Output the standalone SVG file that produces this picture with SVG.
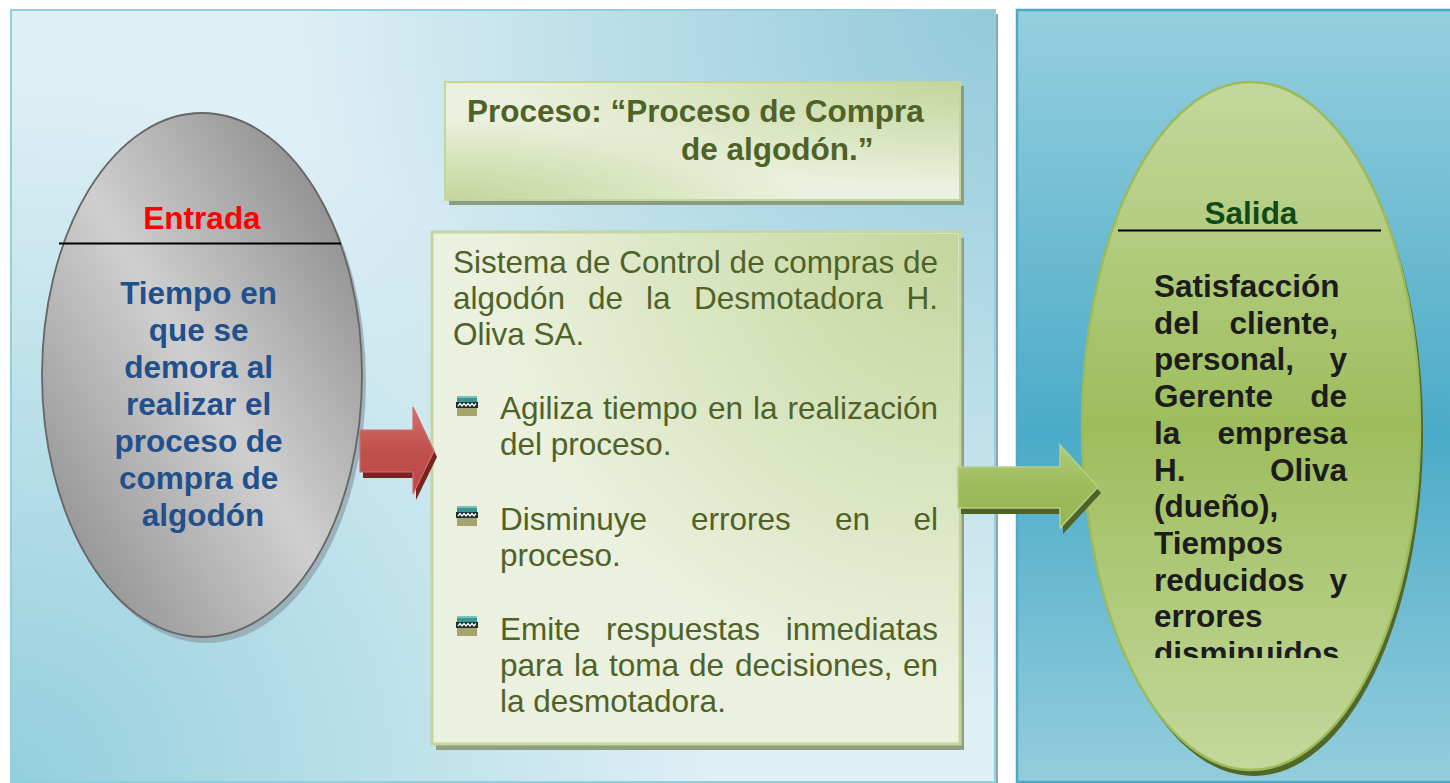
<svg xmlns="http://www.w3.org/2000/svg" width="1450" height="783" viewBox="0 0 1450 783">
<defs>
<style>
text{font-family:"Liberation Sans",Arial,sans-serif;font-size:31.5px}
.b{font-weight:bold}
.blue{fill:#21508d;font-weight:bold}
.olive{fill:#4f6228}
.dark{fill:#1c1c1c;font-weight:bold}
.rule{stroke:#000;stroke-width:2}
</style>
<radialGradient id="pnlTR" gradientUnits="userSpaceOnUse" cx="995" cy="9" r="700">
<stop offset="0" stop-color="#92cada" stop-opacity="1"/>
<stop offset="1" stop-color="#92cada" stop-opacity="0"/>
</radialGradient>
<radialGradient id="pnlBL" gradientUnits="userSpaceOnUse" cx="10" cy="783" r="700">
<stop offset="0" stop-color="#93cfdd" stop-opacity="1"/>
<stop offset="1" stop-color="#93cfdd" stop-opacity="0"/>
</radialGradient>
<linearGradient id="pnlR" x1="0" y1="0" x2="0" y2="1">
<stop offset="0" stop-color="#96cfde"/>
<stop offset="0.55" stop-color="#4babc8"/>
<stop offset="1" stop-color="#94cddc"/>
</linearGradient>
<radialGradient id="boxTR" cx="1" cy="0" r="0.9">
<stop offset="0" stop-color="#c3d69b"/>
<stop offset="1" stop-color="#c3d69b" stop-opacity="0"/>
</radialGradient>
<radialGradient id="boxBL" cx="0" cy="1" r="0.7">
<stop offset="0" stop-color="#c3d69b"/>
<stop offset="1" stop-color="#c3d69b" stop-opacity="0"/>
</radialGradient>
<linearGradient id="gris" x1="1" y1="0" x2="0" y2="1">
<stop offset="0" stop-color="#7c7c7c"/>
<stop offset="0.5" stop-color="#cfcfcf"/>
<stop offset="1" stop-color="#838383"/>
</linearGradient>
<linearGradient id="verde" x1="0" y1="0" x2="0" y2="1">
<stop offset="0" stop-color="#c4d89c"/>
<stop offset="0.5" stop-color="#9dbd5c"/>
<stop offset="1" stop-color="#c4d89c"/>
</linearGradient>
<linearGradient id="rojo" x1="0" y1="0" x2="0" y2="1">
<stop offset="0" stop-color="#d5726f"/>
<stop offset="0.5" stop-color="#c0504d"/>
<stop offset="1" stop-color="#b94844"/>
</linearGradient>
<linearGradient id="flechaV" x1="0" y1="0" x2="0" y2="1">
<stop offset="0" stop-color="#b0ca7b"/>
<stop offset="0.5" stop-color="#9dbc5b"/>
<stop offset="1" stop-color="#95b653"/>
</linearGradient>
<clipPath id="clipSalida"><rect x="1080" y="0" width="370" height="658"/></clipPath>
<g id="bullet">
<rect x="1" y="0" width="20" height="6" fill="#3a9690"/>
<rect x="1" y="0" width="20" height="2" fill="#7cc0b8"/>
<rect x="0" y="6" width="22" height="6" fill="#18302e"/>
<path d="M2,10 l2,-2.5 l2,2.5 l2,-2.5 l2,2.5 l2,-2.5 l2,2.5 l2,-2.5 l2,2.5 l2,-2.5" fill="none" stroke="#ffffff" stroke-width="1.3"/>
<rect x="1" y="12" width="20" height="8" fill="#a6a36c"/>
</g>
</defs>

<g id="panel-left">
<rect x="995" y="14" width="3" height="769" fill="#8fa7b0"/>
<rect x="11" y="10" width="984" height="772" fill="#deeff5" stroke="#92cfdc" stroke-width="2"/>
<rect x="12" y="11" width="982" height="770" fill="url(#pnlTR)"/>
<rect x="12" y="11" width="982" height="770" fill="url(#pnlBL)"/>
</g>

<g id="panel-right">
<rect x="1017" y="10" width="440" height="772" fill="url(#pnlR)" stroke="#4aaac8" stroke-width="2.5"/>
</g>

<g id="node-entrada">
<ellipse cx="206" cy="381" rx="160" ry="262" fill="#8d9ea6" opacity="0.7"/>
<ellipse cx="202" cy="375" rx="160" ry="262" fill="url(#gris)" stroke="#666666" stroke-width="1.8"/>
<text x="202" y="229" text-anchor="middle" class="b" fill="#ff0000">Entrada</text>
<line x1="59" y1="243.5" x2="341" y2="243.5" class="rule"/>
<text text-anchor="middle" class="blue">
<tspan x="203" y="304">Tiempo en</tspan>
<tspan x="203" y="341">que se</tspan>
<tspan x="203" y="378">demora al</tspan>
<tspan x="203" y="415">realizar el</tspan>
<tspan x="203" y="452">proceso de</tspan>
<tspan x="203" y="489">compra de</tspan>
<tspan x="203" y="526">algodón</tspan>
</text>
</g>

<g id="node-proceso-titulo">
<rect x="449" y="86" width="515" height="119" fill="#8c9c80"/>
<rect x="445" y="82" width="515" height="118" fill="#ebf1de" stroke="#c3d69b" stroke-width="2"/>
<rect x="446" y="83" width="513" height="116" fill="url(#boxTR)"/>
<rect x="446" y="83" width="513" height="116" fill="url(#boxBL)"/>
<text class="b olive">
<tspan x="467" y="122">Proceso: “Proceso de Compra</tspan>
<tspan x="681" y="160">de algodón.”</tspan>
</text>
</g>

<g id="node-proceso">
<rect x="436" y="238" width="528" height="512" fill="#8f9e84"/>
<rect x="432" y="232" width="528" height="512" fill="#ebf1de" stroke="#c3d69b" stroke-width="3"/>
<rect x="434" y="234" width="524" height="508" fill="url(#boxTR)"/>
<g class="olive">
<text x="453" y="273" class="olive">Sistema de Control de compras de</text>
<text y="309" class="olive"><tspan x="453">algodón</tspan><tspan x="588">de</tspan><tspan x="646">la</tspan><tspan x="694">Desmotadora</tspan></text>
<text x="938" y="309" text-anchor="end" class="olive">H.</text>
<text x="453" y="345" class="olive">Oliva SA.</text>

<use href="#bullet" x="456" y="396"/>
<text y="419" class="olive"><tspan x="500">Agiliza</tspan><tspan x="603">tiempo</tspan><tspan x="708">en</tspan><tspan x="753">la</tspan></text>
<text x="938" y="419" text-anchor="end" class="olive">realización</text>
<text x="500" y="455" class="olive">del proceso.</text>

<use href="#bullet" x="456" y="506"/>
<text y="530" class="olive"><tspan x="500">Disminuye</tspan><tspan x="691">errores</tspan><tspan x="835">en</tspan></text>
<text x="938" y="530" text-anchor="end" class="olive">el</text>
<text x="500" y="566" class="olive">proceso.</text>

<use href="#bullet" x="456" y="616"/>
<text y="640" class="olive"><tspan x="500">Emite</tspan><tspan x="606">respuestas</tspan></text>
<text x="938" y="640" text-anchor="end" class="olive">inmediatas</text>
<text y="676" class="olive"><tspan x="500">para</tspan><tspan x="574">la</tspan><tspan x="609">toma</tspan><tspan x="689">de</tspan><tspan x="735">decisiones,</tspan></text>
<text x="938" y="676" text-anchor="end" class="olive">en</text>
<text x="500" y="712" class="olive">la desmotadora.</text>
</g>
</g>

<g id="node-salida">
<ellipse cx="1254" cy="432" rx="169" ry="344" fill="#52672a"/>
<ellipse cx="1251" cy="426" rx="169" ry="344" fill="url(#verde)" stroke="#9bbb59" stroke-width="2.5"/>
<text x="1251" y="224" text-anchor="middle" class="b" fill="#0f4a18">Salida</text>
<line x1="1118" y1="230.5" x2="1381" y2="230.5" class="rule"/>
<g clip-path="url(#clipSalida)" class="dark">
<text x="1154" y="297" class="dark">Satisfacción</text>
<text x="1154" y="334" class="dark">del</text><text x="1338" y="334" text-anchor="end" class="dark">cliente,</text>
<text x="1154" y="370" class="dark">personal,</text><text x="1347" y="370" text-anchor="end" class="dark">y</text>
<text x="1154" y="407" class="dark">Gerente</text><text x="1347" y="407" text-anchor="end" class="dark">de</text>
<text x="1154" y="444" class="dark">la</text><text x="1347" y="444" text-anchor="end" class="dark">empresa</text>
<text x="1154" y="481" class="dark">H.</text><text x="1347" y="481" text-anchor="end" class="dark">Oliva</text>
<text x="1154" y="517" class="dark">(dueño),</text>
<text x="1154" y="554" class="dark">Tiempos</text>
<text x="1154" y="591" class="dark">reducidos</text><text x="1347" y="591" text-anchor="end" class="dark">y</text>
<text x="1154" y="627" class="dark">errores</text>
<text x="1154" y="664" class="dark">disminuidos</text>
</g>
</g>

<g id="connectors">
<path d="M363,436 H416 V413 L437,457 L416,500 V478 H363 Z" fill="#7a2422"/>
<path d="M360,430 H413 V407 L434,451 L413,494 V472 H360 Z" fill="url(#rojo)" stroke="#d26c69" stroke-width="1.2"/>
<path d="M961,473 H1063 V451 L1101,493 L1063,534 V514 H961 Z" fill="#4f6228"/>
<path d="M958,467 H1060 V445 L1098,487 L1060,528 V508 H958 Z" fill="url(#flechaV)" stroke="#b6d085" stroke-width="1.5"/>
</g>
</svg>
